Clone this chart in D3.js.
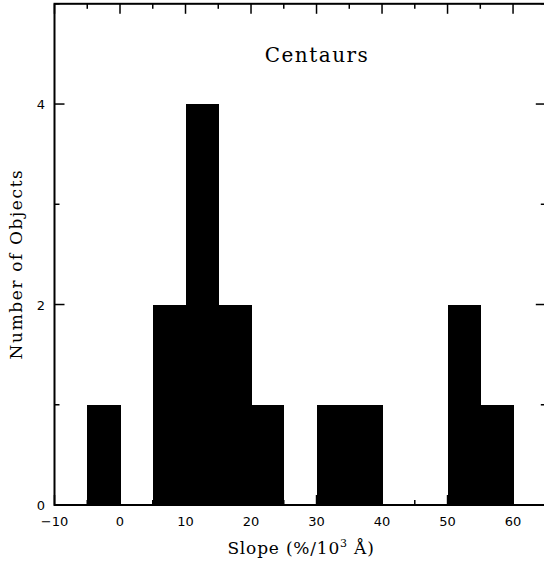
<!DOCTYPE html>
<html><head><meta charset="utf-8">
<script src="https://cdn.jsdelivr.net/npm/d3@7"></script>
<style>body{margin:0;background:#fff}</style>
</head><body>
<svg id="c" width="544" height="561"></svg>
<script>
const binStarts = [-5, 0, 5, 10, 15, 20, 25, 30, 35, 40, 45, 50, 55];
const counts    = [ 1, 0, 2, 4, 2, 1, 0, 1, 1, 0, 0, 2, 1];
const binWidth = 5;
const xMajorTicks = [-10, 0, 10, 20, 30, 40, 50, 60];
const yMajorTicks = [0, 2, 4];
const title = "Centaurs";

const svg = d3.select("#c");
const x = d3.scaleLinear().domain([-10, 65]).range([54.5, 545.8]);
const y = d3.scaleLinear().domain([0, 5]).range([505, 3.8]);

// bars (overlap slightly to avoid seams)
svg.append("g").attr("shape-rendering", "crispEdges")
  .selectAll("rect").data(binStarts.map((s,i)=>({s, c:counts[i]})).filter(d=>d.c>0))
  .enter().append("rect")
  .attr("x", d=>x(d.s)).attr("width", d=>x(d.s+binWidth)-x(d.s)+0.6)
  .attr("y", d=>y(d.c)).attr("height", d=>y(0)-y(d.c))
  .attr("fill", "#000");

const frame = svg.append("g").attr("stroke", "#000").attr("fill", "none");
const [x0, x1] = x.range(), [y0, y1] = y.range();
frame.append("rect").attr("x", x0).attr("y", y1).attr("width", x1-x0).attr("height", y0-y1).attr("stroke-width", 2);

// ticks (inward, all four sides)
d3.range(-10, 66, 5).forEach(v=>{
  const len = (v % 10 === 0) ? 10 : 5;
  frame.append("line").attr("x1", x(v)).attr("x2", x(v)).attr("y1", y0).attr("y2", y0-len).attr("stroke-width", 1.5);
  frame.append("line").attr("x1", x(v)).attr("x2", x(v)).attr("y1", y1).attr("y2", y1+len).attr("stroke-width", 1.5);
});
d3.range(0, 5.01, 1).forEach(v=>{
  const len = (v % 2 === 0) ? 10 : 5;
  frame.append("line").attr("x1", x0).attr("x2", x0+len).attr("y1", y(v)).attr("y2", y(v)).attr("stroke-width", 1.5);
  frame.append("line").attr("x1", x1).attr("x2", x1-len).attr("y1", y(v)).attr("y2", y(v)).attr("stroke-width", 1.5);
});

// tick labels
svg.append("g").selectAll("text").data(xMajorTicks).enter().append("text")
  .attr("x", d=>x(d)).attr("y", 526).attr("text-anchor", "middle")
  .attr("font-family", "DejaVu Sans").attr("font-size", 13)
  .text(d=> d < 0 ? "\u2212" + Math.abs(d) : d);
svg.append("g").selectAll("text").data(yMajorTicks).enter().append("text")
  .attr("x", 45).attr("y", d=>y(d)+5).attr("text-anchor", "end")
  .attr("font-family", "DejaVu Sans").attr("font-size", 13)
  .text(d=>d);

// labels
svg.append("text").attr("x", 317).attr("y", 62).attr("text-anchor", "middle")
  .attr("font-family", "DejaVu Serif").attr("font-size", 20).attr("letter-spacing", 1.5).text(title);
const xl = svg.append("text").attr("x", 301).attr("y", 554).attr("text-anchor", "middle")
  .attr("font-family", "DejaVu Serif").attr("font-size", 17).attr("letter-spacing", 0.8);
xl.append("tspan").text("Slope (%/10");
xl.append("tspan").attr("dy", -7).attr("font-size", 11).text("3");
xl.append("tspan").attr("dy", 7).text(" Å)");
svg.append("text").attr("transform", "translate(22,264) rotate(-90)").attr("text-anchor", "middle")
  .attr("font-family", "DejaVu Serif").attr("font-size", 17).attr("letter-spacing", 1.6).text("Number of Objects");
</script>
</body></html>
